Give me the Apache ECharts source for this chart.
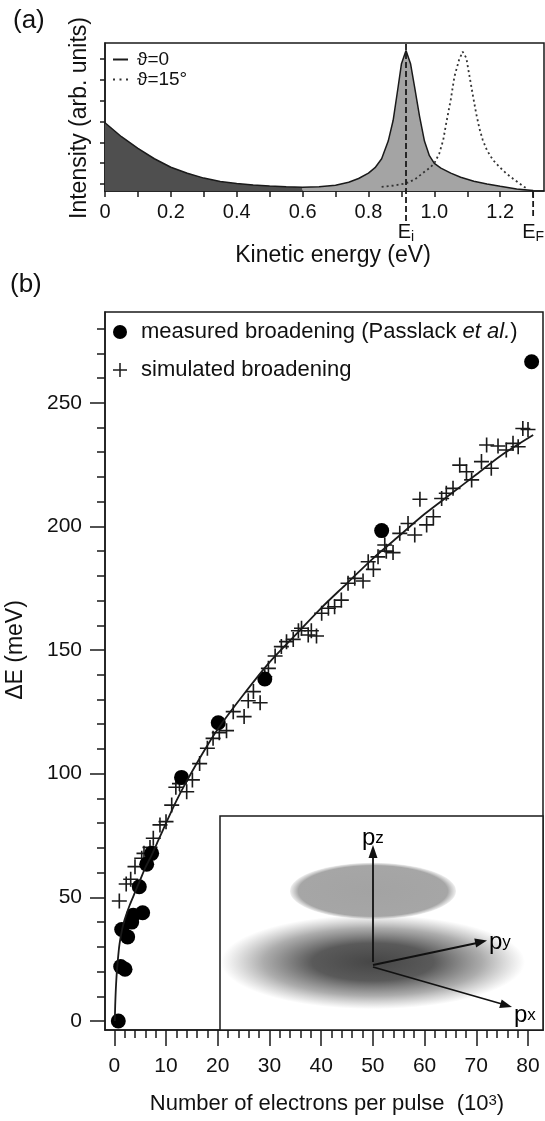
<!DOCTYPE html>
<html>
<head>
<meta charset="utf-8">
<script src="https://cdn.jsdelivr.net/npm/echarts@6/dist/echarts.min.js"></script>
<style>
html,body{margin:0;padding:0;background:#fff;}
#chart{width:545px;height:1121px;}
</style>
</head>
<body>
<div id="chart"></div>
<script>
// (a) spectra
var energy0 = [0, 0.05, 0.1, 0.15, 0.2, 0.25, 0.3, 0.35, 0.4, 0.45, 0.5, 0.55, 0.6, 0.65, 0.7, 0.74, 0.77, 0.8, 0.82, 0.84, 0.86, 0.875, 0.89, 0.9, 0.914, 0.928, 0.94, 0.955, 0.97, 0.985, 1.0, 1.02, 1.05, 1.08, 1.12, 1.16, 1.2, 1.25, 1.3];
var intensity0 = [3.28, 2.61, 2.05, 1.55, 1.14, 0.85, 0.62, 0.46, 0.36, 0.29, 0.24, 0.2, 0.18, 0.2, 0.28, 0.42, 0.6, 0.86, 1.12, 1.55, 2.4, 3.4, 5.0, 6.1, 6.75, 6.1, 5.0, 3.6, 2.4, 1.7, 1.33, 1.1, 0.86, 0.66, 0.47, 0.34, 0.23, 0.1, 0.02];
var energy15 = [0.84, 0.88, 0.914, 0.94, 0.964, 0.985, 1.0, 1.015, 1.027, 1.036, 1.05, 1.061, 1.075, 1.086, 1.097, 1.107, 1.117, 1.127, 1.137, 1.147, 1.16, 1.178, 1.198, 1.218, 1.24, 1.258, 1.279];
var intensity15 = [0.2, 0.27, 0.37, 0.55, 0.85, 1.1, 1.33, 1.8, 2.45, 3.25, 4.4, 5.5, 6.3, 6.7, 6.4, 5.5, 4.6, 3.73, 3.0, 2.45, 1.95, 1.49, 1.15, 0.85, 0.58, 0.37, 0.13];
var splitEnergy = 0.6;
var eInitial = 0.914;
var eFermi = 1.3;
var energyTicks = [0, 0.1, 0.2, 0.3, 0.4, 0.5, 0.6, 0.7, 0.8, 0.9, 1.0, 1.1, 1.2, 1.3];
var energyLabels = [0, 0.2, 0.4, 0.6, 0.8, 1.0, 1.2];
var intensityTicks = [0.34, 1.34, 2.34, 3.34, 4.34, 5.34, 6.34];

// (b) broadening
var measuredN = [0.77, 1.23, 2.07, 1.43, 2.58, 3.36, 3.67, 5.48, 4.83, 6.26, 7.22, 13.0, 20.1, 29.1, 51.7, 80.7];
var measuredDE = [0, 22, 20.9, 37, 34, 40, 42.8, 43.8, 54.3, 63.4, 67.8, 98.5, 120.6, 138.3, 198.3, 266.6];
var simulatedN = [0.97, 2.3, 3.17, 4.0, 5.3, 5.74, 6.9, 7.54, 8.83, 10.0, 11.1, 11.9, 12.6, 14.0, 15.1, 16.5, 18.0, 19.1, 20.3, 21.7, 23.0, 25.1, 25.9, 26.9, 28.2, 29.1, 29.8, 31.1, 32.3, 33.3, 34.6, 35.6, 36.2, 37.5, 38.1, 39.1, 40.1, 41.4, 42.6, 43.9, 45.2, 46.5, 48.1, 49.1, 50.1, 51.0, 52.3, 52.6, 53.9, 55.2, 56.8, 58.1, 59.1, 60.4, 61.7, 63.3, 64.2, 65.5, 66.8, 68.1, 69.1, 71.0, 72.0, 72.9, 74.2, 75.8, 77.1, 78.1, 79.0, 80.0];
var simulatedDE = [48.5, 55.4, 57.3, 62.4, 65.8, 67.8, 70.2, 73.9, 79.3, 80.6, 87.3, 94.5, 96, 92.7, 97.5, 104.1, 110.3, 114.3, 116.6, 117.4, 125.1, 123.1, 129.5, 133.2, 128.7, 139.2, 142.6, 147.6, 151.4, 153.4, 154.3, 157.8, 158.8, 156.1, 157.8, 155.7, 164.9, 166.9, 167.5, 170.2, 177, 179, 177.9, 185.7, 182.6, 187.7, 192.5, 190.0, 189.4, 197.2, 201.2, 196.5, 211, 200.6, 203.9, 211.3, 213.4, 215.4, 224.8, 222.1, 218.8, 226.2, 232.9, 223.5, 232.5, 230.9, 233.6, 232.2, 239.6, 239.2];
var fitN = [0.1, 0.2, 0.4, 0.7, 1.0, 1.5, 2, 3, 4, 5, 6, 7.2, 8.5, 10, 12, 14, 17, 20, 25, 30, 35, 40, 45, 50, 55, 60, 65, 70, 75, 81];
var fitDE = [0, 8, 17, 25, 31, 37, 41, 47, 52, 57, 62, 67, 73, 80, 89, 97, 108, 118, 132, 145, 156, 167, 177, 187, 196, 205, 213, 221, 229, 237];
var nMajor = [0, 10, 20, 30, 40, 50, 60, 70, 80];
var nMinor = [0, 2, 4, 6, 8, 10, 12, 14, 16, 18, 20, 22, 24, 26, 28, 30, 32, 34, 36, 38, 40, 42, 44, 46, 48, 50, 52, 54, 56, 58, 60, 62, 64, 66, 68, 70, 72, 74, 76, 78, 80];
var deMajor = [0, 50, 100, 150, 200, 250];
var deMinor = [0, 10, 20, 30, 40, 50, 60, 70, 80, 90, 100, 110, 120, 130, 140, 150, 160, 170, 180, 190, 200, 210, 220, 230, 240, 250, 260, 270, 280];

var FONT = "'Liberation Sans', Arial, Helvetica, sans-serif";
var INK = '#1a1a1a';
var PLUS = 'path://M0,10.7H24V13.3H0Z M10.7,0H13.3V24H10.7Z';

function zip(xs, ys) {
  return xs.map(function (x, i) { return [x, ys[i]]; });
}

var spectrum0 = zip(energy0, intensity0);
var darkPart = spectrum0.filter(function (p) { return p[0] <= splitEnergy; });
var lightPart = spectrum0.filter(function (p) { return p[0] >= splitEnergy; });

var axisLine = { onZero: false, lineStyle: { color: INK, width: 1.5 } };
var noLine = { show: false, onZero: false };
var tickStyle = { color: INK, width: 1.5 };

function subRich(size, subSize, drop) {
  return {
    n: { fontSize: size, fontFamily: FONT, color: '#111', lineHeight: size, verticalAlign: 'top' },
    s: { fontSize: subSize, fontFamily: FONT, color: '#111', lineHeight: subSize, verticalAlign: 'top', padding: [drop, 0, 0, 0] }
  };
}

var chart = echarts.init(document.getElementById('chart'));

var option = {
  animation: false,
  backgroundColor: '#fff',
  grid: [
    { left: 105, top: 43, width: 439, height: 148, show: true, borderColor: INK, borderWidth: 1.5 },
    { left: 105, top: 312, width: 438, height: 718, show: true, borderColor: INK, borderWidth: 1.5 },
    { left: 105, top: 43, width: 439, height: 178 }
  ],
  xAxis: [
    {
      gridIndex: 0, type: 'value', min: 0, max: 1.333, position: 'bottom',
      axisLine: axisLine,
      axisTick: { customValues: energyTicks, length: 6, lineStyle: tickStyle },
      axisLabel: {
        customValues: energyLabels, margin: 11, fontSize: 20, fontFamily: FONT, color: '#111',
        formatter: function (v) { return v === 0 ? '0' : v.toFixed(1); }
      },
      splitLine: { show: false }
    },
    {
      gridIndex: 1, type: 'value', min: -1.8, max: 82.9, position: 'bottom',
      axisLine: axisLine,
      axisTick: { customValues: nMajor, length: 16, lineStyle: tickStyle },
      axisLabel: { customValues: nMajor, margin: 26, fontSize: 21, fontFamily: FONT, color: '#111' },
      splitLine: { show: false }
    },
    {
      gridIndex: 1, type: 'value', min: -1.8, max: 82.9, position: 'bottom',
      axisLine: noLine,
      axisTick: { customValues: nMinor, length: 8, lineStyle: tickStyle },
      axisLabel: { show: false },
      splitLine: { show: false }
    },
    { gridIndex: 2, type: 'value', min: 0, max: 1.333, show: false, axisLine: noLine }
  ],
  yAxis: [
    {
      gridIndex: 0, type: 'value', min: 0, max: 7.115, position: 'left',
      axisLine: axisLine,
      axisTick: { customValues: intensityTicks, length: 5, lineStyle: tickStyle },
      axisLabel: { show: false },
      splitLine: { show: false }
    },
    {
      gridIndex: 1, type: 'value', min: -3.64, max: 286.7, position: 'left',
      axisLine: axisLine,
      axisTick: { customValues: deMajor, length: 15, lineStyle: tickStyle },
      axisLabel: { customValues: deMajor, margin: 23, fontSize: 21, fontFamily: FONT, color: '#111' },
      splitLine: { show: false }
    },
    {
      gridIndex: 1, type: 'value', min: -3.64, max: 286.7, position: 'left',
      axisLine: noLine,
      axisTick: { customValues: deMinor, length: 8, lineStyle: tickStyle },
      axisLabel: { show: false },
      splitLine: { show: false }
    },
    { gridIndex: 2, type: 'value', min: -1.44, max: 7.115, show: false, axisLine: noLine }
  ],
  legend: [
    {
      orient: 'vertical', left: 113, top: 50, padding: 0, itemGap: 1,
      itemWidth: 15, itemHeight: 2, selectedMode: false,
      textStyle: { fontSize: 19, fontFamily: FONT, color: '#111', padding: [0, 0, 0, 4] },
      data: [
        { name: 'ϑ=0', icon: 'path://M0,0H15V2H0Z' },
        { name: 'ϑ=15°', icon: 'path://M0,0H2V2H0Z M6.5,0H8.5V2H6.5Z M13,0H15V2H13Z' }
      ]
    },
    {
      orient: 'vertical', left: 113, top: 321, padding: 0, itemGap: 16,
      itemWidth: 14, itemHeight: 14, selectedMode: false,
      textStyle: {
        fontSize: 22, fontFamily: FONT, color: '#111', padding: [0, 0, 0, 9],
        rich: {
          n: { fontSize: 22, fontFamily: FONT, color: '#111' },
          i: { fontSize: 22, fontFamily: FONT, color: '#111', fontStyle: 'italic' }
        }
      },
      formatter: function (name) {
        if (name === 'measured') return '{n|measured broadening (Passlack }{i|et al.}{n|)}';
        return '{n|simulated broadening}';
      },
      data: [
        { name: 'measured', icon: 'circle' },
        { name: 'simulated', icon: PLUS }
      ]
    }
  ],
  series: [
    {
      name: 'dark', type: 'line', xAxisIndex: 0, yAxisIndex: 0, data: darkPart,
      symbol: 'none', silent: true, lineStyle: { width: 0 },
      areaStyle: { color: '#4f4f4f', opacity: 1 }
    },
    {
      name: 'light', type: 'line', xAxisIndex: 0, yAxisIndex: 0, data: lightPart,
      symbol: 'none', silent: true, lineStyle: { width: 0 },
      areaStyle: { color: '#a4a4a4', opacity: 1 }
    },
    {
      name: 'ϑ=0', type: 'line', xAxisIndex: 0, yAxisIndex: 0, data: spectrum0,
      symbol: 'none', color: INK, lineStyle: { color: INK, width: 1.5 }
    },
    {
      name: 'ϑ=15°', type: 'line', xAxisIndex: 0, yAxisIndex: 0, data: zip(energy15, intensity15),
      symbol: 'none', color: '#333', lineStyle: { color: '#333', width: 1.8, type: [2, 3] }
    },
    {
      name: 'Ei', type: 'line', xAxisIndex: 3, yAxisIndex: 3, symbol: 'circle', symbolSize: 1,
      itemStyle: { color: 'rgba(0,0,0,0)' },
      lineStyle: { color: INK, width: 1.8, type: [6, 3] },
      data: [
        { value: [eInitial, -1.44], label: { show: true, position: 'bottom', distance: 1, formatter: '{n|E}{s|i}', rich: subRich(20, 14, 8) } },
        [eInitial, 7.115]
      ]
    },
    {
      name: 'EF', type: 'line', xAxisIndex: 3, yAxisIndex: 3, symbol: 'circle', symbolSize: 1,
      itemStyle: { color: 'rgba(0,0,0,0)' },
      lineStyle: { color: INK, width: 1.8, type: [6, 3] },
      data: [
        { value: [eFermi, -1.2], label: { show: true, position: 'bottom', distance: 6, formatter: '{n|E}{s|F}', rich: subRich(20, 14, 8) } },
        [eFermi, 0]
      ]
    },
    {
      name: 'simulated', type: 'scatter', xAxisIndex: 1, yAxisIndex: 1,
      data: zip(simulatedN, simulatedDE), symbol: PLUS, symbolSize: 15,
      color: INK, itemStyle: { color: INK, opacity: 1 }
    },
    {
      name: 'fit', type: 'line', xAxisIndex: 1, yAxisIndex: 1, data: zip(fitN, fitDE),
      symbol: 'none', smooth: 0.3, lineStyle: { color: INK, width: 1.8 }
    },
    {
      name: 'measured', type: 'scatter', xAxisIndex: 1, yAxisIndex: 1,
      data: zip(measuredN, measuredDE), symbol: 'circle', symbolSize: 15,
      color: '#000', itemStyle: { color: '#000', opacity: 1 }
    }
  ],
  graphic: [
    // panel letters and axis titles
    { type: 'text', left: 13, top: 8, style: { text: '(a)', fontSize: 26, fontFamily: FONT, fill: '#111' } },
    { type: 'text', left: 10, top: 272, style: { text: '(b)', fontSize: 26, fontFamily: FONT, fill: '#111' } },
    { type: 'text', x: 80, y: 118, rotation: Math.PI / 2, style: { text: 'Intensity (arb. units)', fontSize: 23, fontFamily: FONT, fill: '#111', align: 'center', verticalAlign: 'middle' } },
    { type: 'text', x: 333, y: 256, style: { text: 'Kinetic energy (eV)', fontSize: 23, fontFamily: FONT, fill: '#111', align: 'center', verticalAlign: 'middle' } },
    { type: 'text', x: 16, y: 650, rotation: Math.PI / 2, style: { text: 'ΔE (meV)', fontSize: 23, fontFamily: FONT, fill: '#111', align: 'center', verticalAlign: 'middle' } },
    {
      type: 'text', x: 327, y: 1104,
      style: {
        text: '{n|Number of electrons per pulse  (10}{p|3}{n|)}', align: 'center', verticalAlign: 'middle',
        rich: {
          n: { fontSize: 22, fontFamily: FONT, fill: '#111', lineHeight: 22, verticalAlign: 'top' },
          p: { fontSize: 15, fontFamily: FONT, fill: '#111', lineHeight: 15, verticalAlign: 'top' }
        }
      }
    },
    // inset: momentum distribution sketch
    { type: 'rect', z: 10, shape: { x: 220, y: 816, width: 323, height: 214 }, style: { fill: '#fff', stroke: INK, lineWidth: 1.5 } },
    {
      type: 'circle', z: 11, x: 373, y: 962, scaleY: 0.31, shape: { cx: 0, cy: 0, r: 152 },
      style: { fill: { type: 'radial', x: 0.5, y: 0.5, r: 0.5, colorStops: [
        { offset: 0, color: 'rgba(70,70,70,1)' },
        { offset: 0.4, color: 'rgba(76,76,76,0.92)' },
        { offset: 0.72, color: 'rgba(90,90,90,0.5)' },
        { offset: 1, color: 'rgba(110,110,110,0)' }
      ] } }
    },
    {
      type: 'circle', z: 12, x: 373, y: 891, scaleY: 0.34, shape: { cx: 0, cy: 0, r: 83 },
      style: { fill: { type: 'radial', x: 0.5, y: 0.5, r: 0.5, colorStops: [
        { offset: 0, color: 'rgba(163,163,163,1)' },
        { offset: 0.9, color: 'rgba(166,166,166,1)' },
        { offset: 1, color: 'rgba(175,175,175,0.2)' }
      ] } }
    },
    { type: 'line', z: 13, shape: { x1: 373, y1: 962, x2: 373, y2: 856 }, style: { stroke: '#111', lineWidth: 1.8 } },
    { type: 'polygon', z: 13, shape: { points: [[373, 845], [368.5, 858], [377.5, 858]] }, style: { fill: '#111' } },
    { type: 'line', z: 13, shape: { x1: 373, y1: 965, x2: 477, y2: 943 }, style: { stroke: '#111', lineWidth: 1.8 } },
    { type: 'polygon', z: 13, shape: { points: [[487, 940.5], [476.1, 947.4], [474.3, 938.6]] }, style: { fill: '#111' } },
    { type: 'line', z: 13, shape: { x1: 373, y1: 967, x2: 502, y2: 1004 }, style: { stroke: '#111', lineWidth: 1.8 } },
    { type: 'polygon', z: 13, shape: { points: [[512, 1007], [499.2, 1008], [501.7, 999.4]] }, style: { fill: '#111' } },
    { type: 'text', z: 14, left: 362, top: 826, style: { text: '{n|p}{s|z}', rich: subRich(24, 17, 4) } },
    { type: 'text', z: 14, left: 489, top: 930, style: { text: '{n|p}{s|y}', rich: subRich(24, 17, 4) } },
    { type: 'text', z: 14, left: 514, top: 1003, style: { text: '{n|p}{s|x}', rich: subRich(24, 17, 4) } }
  ]
};

chart.setOption(option);
</script>
</body>
</html>
